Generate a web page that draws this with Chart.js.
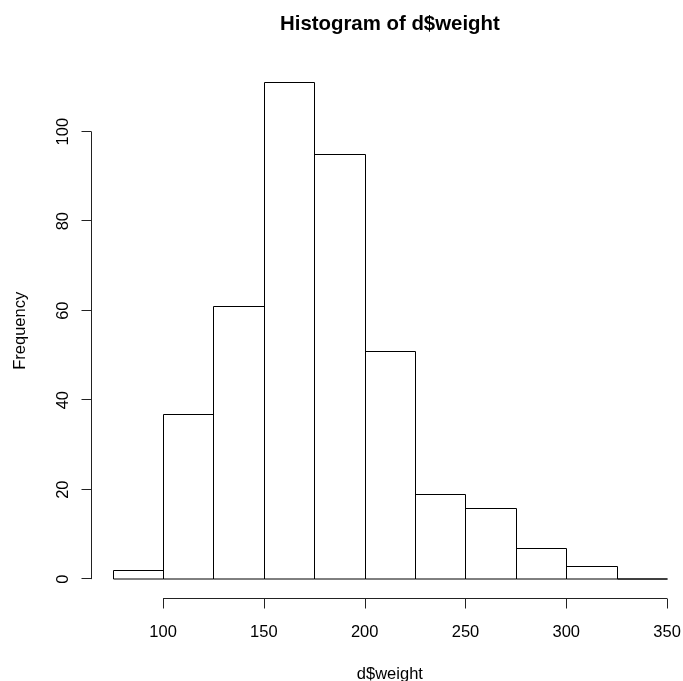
<!DOCTYPE html>
<html>
<head>
<meta charset="utf-8">
<script src="https://cdn.jsdelivr.net/npm/chart.js@4.4.1/dist/chart.umd.min.js"></script>
<style>
  html, body { margin: 0; padding: 0; background: #ffffff; }
  #wrap { width: 683px; height: 681px; position: relative; }
</style>
</head>
<body>
<div id="wrap"><canvas id="c" width="683" height="681"></canvas></div>
<script>
// ---- data ----
const chartTitle = "Histogram of d$weight";
const xLabel = "d$weight";
const yLabel = "Frequency";
const binStarts = [75, 100, 125, 150, 175, 200, 225, 250, 275, 300, 325];
const binEnds   = [100, 125, 150, 175, 200, 225, 250, 275, 300, 325, 350];
const counts    = [2, 37, 61, 111, 95, 51, 19, 16, 7, 3, 0];
const xTicks = [100, 150, 200, 250, 300, 350];
const yTicks = [0, 20, 40, 60, 80, 100];

const points = binStarts.map((s, i) => ({ x: (s + binEnds[i]) / 2, y: counts[i] }));

const FONT = '"Liberation Sans", Arial, Helvetica, sans-serif';

const rAxes = {
  id: 'rAxes',
  afterDatasetsDraw(chart) {
    const ctx = chart.ctx;
    const xs = chart.scales.x, ys = chart.scales.y, ca = chart.chartArea;
    ctx.save();
    ctx.strokeStyle = '#000';
    ctx.fillStyle = '#000';
    ctx.lineWidth = 1;

    // bar outlines (R-style rect borders, shared edges drawn once)
    const meta = chart.getDatasetMeta(0);
    meta.data.forEach(el => {
      const p = el.getProps(['x', 'y', 'base', 'width'], true);
      const l = Math.round(p.x - p.width / 2) + 0.5;
      const r = Math.round(p.x + p.width / 2) + 0.5;
      const b = Math.round(p.base);
      const t = Math.min(Math.round(p.y) + 0.5, b);
      ctx.beginPath();
      ctx.moveTo(l, b);
      ctx.lineTo(l, t);
      ctx.lineTo(r, t);
      ctx.lineTo(r, b);
      ctx.closePath();
      ctx.stroke();
    });

    // y axis
    const ax = Math.round(ca.left) + 0.5;
    ctx.strokeStyle = '#222';
    ctx.beginPath();
    ctx.moveTo(ax, ys.getPixelForValue(yTicks[0]));
    ctx.lineTo(ax, ys.getPixelForValue(yTicks[yTicks.length - 1]));
    yTicks.forEach(v => {
      const py = Math.round(ys.getPixelForValue(v)) - 0.5;
      ctx.moveTo(ax, py);
      ctx.lineTo(ax - 10, py);
    });
    ctx.stroke();
    ctx.font = '16.5px ' + FONT;
    ctx.textAlign = 'center';
    ctx.textBaseline = 'alphabetic';
    yTicks.forEach(v => {
      const py = ys.getPixelForValue(v);
      ctx.save();
      ctx.translate(ca.left - 22.5, py);
      ctx.rotate(-Math.PI / 2);
      ctx.fillText(String(v), 0, 0);
      ctx.restore();
    });

    // x axis
    const ay = Math.round(ca.bottom) - 0.5;
    ctx.beginPath();
    ctx.moveTo(xs.getPixelForValue(xTicks[0]), ay);
    ctx.lineTo(xs.getPixelForValue(xTicks[xTicks.length - 1]), ay);
    xTicks.forEach(v => {
      const px = Math.round(xs.getPixelForValue(v)) + 0.5;
      ctx.moveTo(px, ay);
      ctx.lineTo(px, ay + 10);
    });
    ctx.stroke();
    xTicks.forEach(v => {
      ctx.fillText(String(v), xs.getPixelForValue(v), ca.bottom + 38);
    });

    // titles
    const midX = xs.getPixelForValue((64 + 361) / 2);
    ctx.fillText(xLabel, midX, ca.bottom + 80);
    ctx.save();
    ctx.translate(25, (ca.top + ca.bottom) / 2);
    ctx.rotate(-Math.PI / 2);
    ctx.fillText(yLabel, 0, 0);
    ctx.restore();
    ctx.font = 'bold 20.4px ' + FONT;
    ctx.fillText(chartTitle, midX, 29.5);
    ctx.restore();
  }
};

new Chart(document.getElementById('c'), {
  type: 'bar',
  data: {
    datasets: [{
      data: points,
      backgroundColor: 'rgba(255,255,255,0)',
      borderColor: 'rgba(0,0,0,0)',
      borderWidth: 0,
      barPercentage: 1,
      categoryPercentage: 1
    }]
  },
  options: {
    responsive: false,
    animation: false,
    layout: { padding: { left: 90.5, right: 0, top: 62.6, bottom: 82 } },
    plugins: { legend: { display: false }, tooltip: { enabled: false }, title: { display: false } },
    scales: {
      x: { type: 'linear', display: false, min: 64, max: 357.9, offset: false },
      y: { type: 'linear', display: false, min: -4.44, max: 115.44 }
    }
  },
  plugins: [rAxes]
});
</script>
</body>
</html>
